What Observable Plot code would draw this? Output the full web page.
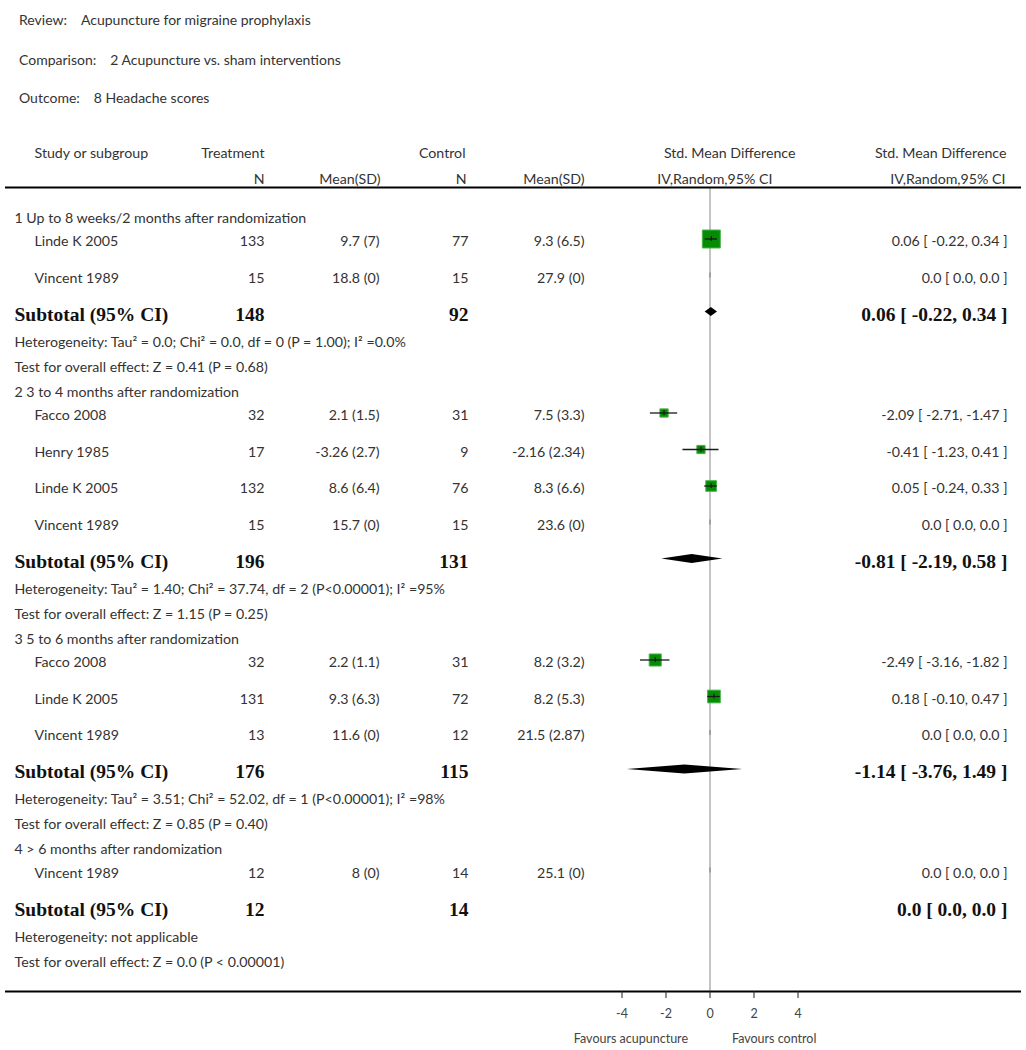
<!DOCTYPE html>
<html><head><meta charset="utf-8">
<script src="https://cdn.jsdelivr.net/npm/d3@7"></script>
<script src="https://cdn.jsdelivr.net/npm/@observablehq/plot@0.6"></script>
<style>
body{margin:0;background:#fff;font-family:Lato,"Open Sans",sans-serif;color:#333;}
#head{position:relative;height:130px;width:1026px;}
#head div{position:absolute;left:19px;font-size:14px;line-height:16px;white-space:nowrap;}
#head span.l{margin-right:14px}
#chart svg{display:block}
</style></head><body>
<div id="head"></div>
<div id="chart"></div>
<script>
// ---------- data ----------
const titleLabels = ["Review:", "Comparison:", "Outcome:"];
const titleValues = ["Acupuncture for migraine prophylaxis", "2 Acupuncture vs. sham interventions", "8 Headache scores"];

const groups = [
  "1 Up to 8 weeks/2 months after randomization",
  "2 3 to 4 months after randomization",
  "3 5 to 6 months after randomization",
  "4 > 6 months after randomization"
];
const studyGroup   = [0, 0, 1, 1, 1, 1, 2, 2, 2, 3];
const studyNames   = ["Linde K 2005", "Vincent 1989", "Facco 2008", "Henry 1985", "Linde K 2005", "Vincent 1989", "Facco 2008", "Linde K 2005", "Vincent 1989", "Vincent 1989"];
const treatN       = [133, 15, 32, 17, 132, 15, 32, 131, 13, 12];
const treatMean    = [9.7, 18.8, 2.1, -3.26, 8.6, 15.7, 2.2, 9.3, 11.6, 8];
const treatSD      = [7, 0, 1.5, 2.7, 6.4, 0, 1.1, 6.3, 0, 0];
const controlN     = [77, 15, 31, 9, 76, 15, 31, 72, 12, 14];
const controlMean  = [9.3, 27.9, 7.5, -2.16, 8.3, 23.6, 8.2, 8.2, 21.5, 25.1];
const controlSD    = [6.5, 0, 3.3, 2.34, 6.6, 0, 3.2, 5.3, 2.87, 0];
const smd          = [0.06, 0.0, -2.09, -0.41, 0.05, 0.0, -2.49, 0.18, 0.0, 0.0];
const smdLow       = [-0.22, 0.0, -2.71, -1.23, -0.24, 0.0, -3.16, -0.10, 0.0, 0.0];
const smdHigh      = [0.34, 0.0, -1.47, 0.41, 0.33, 0.0, -1.82, 0.47, 0.0, 0.0];
const weight       = [100, 0, 21, 21, 35, 0, 45, 50, 0, 0];

const subTreatN    = [148, 196, 176, 12];
const subControlN  = [92, 131, 115, 14];
const subSmd       = [0.06, -0.81, -1.14, 0.0];
const subLow       = [-0.22, -2.19, -3.76, 0.0];
const subHigh      = [0.34, 0.58, 1.49, 0.0];
const heterogeneity = [
  "Heterogeneity: Tau² = 0.0; Chi² = 0.0, df = 0 (P = 1.00); I² =0.0%",
  "Heterogeneity: Tau² = 1.40; Chi² = 37.74, df = 2 (P<0.00001); I² =95%",
  "Heterogeneity: Tau² = 3.51; Chi² = 52.02, df = 1 (P<0.00001); I² =98%",
  "Heterogeneity: not applicable"
];
const overallTest = [
  "Test for overall effect: Z = 0.41 (P = 0.68)",
  "Test for overall effect: Z = 1.15 (P = 0.25)",
  "Test for overall effect: Z = 0.85 (P = 0.40)",
  "Test for overall effect: Z = 0.0 (P < 0.00001)"
];
const axisTicks = [-4, -2, 0, 2, 4];
const favours = ["Favours acupuncture", "Favours control"];
const headerRow1 = ["Study or subgroup", "Treatment", "Control", "Std. Mean Difference", "Std. Mean Difference"];
const headerRow2 = ["N", "Mean(SD)", "N", "Mean(SD)", "IV,Random,95% CI", "IV,Random,95% CI"];

// ---------- header (HTML) ----------
const head = document.getElementById("head");
[12, 52, 90].forEach((top, i) => {
  const d = document.createElement("div");
  d.style.top = top + "px";
  d.innerHTML = `<span class="l">${titleLabels[i]}</span>${titleValues[i]}`;
  head.appendChild(d);
});

// ---------- layout ----------
const W = 1026, H = 920, OFF = 130;
const X0 = 709.5, PXU = 22;           // pixel of zero, pixels per unit
const toX = px => (px - X0) / PXU;     // page pixel -> x-scale value
const col = {group: 14, study: 34, tN: 264, tMean: 379, cN: 468, cMean: 584, eff: 1007};

const rows = [];
let y = 215;
groups.forEach((g, gi) => {
  rows.push({type: "group", y, text: g});
  const idx = studyNames.map((_, i) => i).filter(i => studyGroup[i] === gi);
  idx.forEach((i, k) => { y += k === 0 ? 23.5 : 36.5; rows.push({type: "study", y, i}); });
  y += 36.5; rows.push({type: "subtotal", y, g: gi});
  y += 27.5; rows.push({type: "het", y, g: gi});
  y += 25;   rows.push({type: "test", y, g: gi});
  y += 25;
});

const f2 = v => v === 0 ? "0.0" : v.toFixed(2);
const effText = (e, l, h) => `${f2(e)} [ ${f2(l)}, ${f2(h)} ]`;

const studies = rows.filter(r => r.type === "study").map(r => {
  const i = r.i;
  return {y: r.y, name: studyNames[i], tN: treatN[i], tMS: `${treatMean[i]} (${treatSD[i]})`,
    cN: controlN[i], cMS: `${controlMean[i]} (${controlSD[i]})`,
    est: smd[i], lo: smdLow[i], hi: smdHigh[i], w: weight[i], eff: effText(smd[i], smdLow[i], smdHigh[i])};
});
const subs = rows.filter(r => r.type === "subtotal").map(r => ({y: r.y, g: r.g,
  tN: subTreatN[r.g], cN: subControlN[r.g], est: subSmd[r.g], lo: subLow[r.g], hi: subHigh[r.g],
  eff: effText(subSmd[r.g], subLow[r.g], subHigh[r.g])}));
const diamonds = subs.flatMap(s => [
  {g: s.g, y: s.y - 4.5, x1: s.est, x2: s.est},
  {g: s.g, y: s.y, x1: s.lo, x2: s.hi},
  {g: s.g, y: s.y + 4.5, x1: s.est, x2: s.est}
]);
const groupRows = rows.filter(r => r.type === "group");
const hetRows = rows.filter(r => r.type === "het").map(r => ({y: r.y, text: heterogeneity[r.g]}));
const testRows = rows.filter(r => r.type === "test").map(r => ({y: r.y, text: overallTest[r.g]}));

const hdr1Start = [{t: headerRow1[0], px: 34}];
const hdr1End = [
  {t: headerRow1[1], px: 264}, {t: headerRow1[2], px: 465},
  {t: headerRow1[3], px: 795}, {t: headerRow1[4], px: 1006}
];
const hdr2 = [
  {t: headerRow2[0], px: 264}, {t: headerRow2[1], px: 380},
  {t: headerRow2[2], px: 466}, {t: headerRow2[3], px: 584},
  {t: headerRow2[4], px: 772}, {t: headerRow2[5], px: 1005}
];

const FS = 14.2;
const TXT = {fontSize: FS, fill: "#333"};
const ROW = {fontSize: FS, fill: "#333", dy: 2.5};
const BOLD = {fontSize: 19.5, fontFamily: "Liberation Serif", fontWeight: "bold", fill: "#111", dy: 2.5};

const chart = Plot.plot({
  width: W, height: H,
  marginLeft: 5, marginRight: 5, marginTop: 0, marginBottom: 59,
  x: {domain: [toX(5), toX(1021)], range: [5, 1021]},
  y: {domain: [OFF, OFF + H], range: [0, H], axis: null},
  r: {type: "sqrt", domain: [0, 100], range: [0, 18 / Math.sqrt(Math.PI)]},
  style: {fontFamily: "Lato, 'Open Sans', sans-serif", fontSize: "14px", color: "#333", background: "#fff"},
  marks: [
    // header texts
    Plot.text(hdr1Start, {x: d => toX(d.px), y: () => 153, text: "t", textAnchor: "start", ...TXT}),
    Plot.text(hdr1End, {x: d => toX(d.px), y: () => 153, text: "t", textAnchor: "end", ...TXT}),
    Plot.text(hdr2, {x: d => toX(d.px), y: () => 179, text: "t", textAnchor: "end", ...TXT}),
    // zero line
    Plot.ruleX([0], {y1: 187, y2: 991, stroke: "#c4c4c4", strokeWidth: 2}),
    // top and bottom rules
    Plot.ruleY([187, 991], {y: d => d, stroke: "#000", strokeWidth: 2}),
    // group headings
    Plot.text(groupRows, {x: () => toX(col.group), y: "y", text: "text", textAnchor: "start", ...ROW}),
    // study rows
    Plot.text(studies, {x: () => toX(col.study), y: "y", text: "name", textAnchor: "start", ...ROW}),
    Plot.text(studies, {x: () => toX(col.tN), y: "y", text: "tN", textAnchor: "end", ...ROW}),
    Plot.text(studies, {x: () => toX(col.tMean), y: "y", text: "tMS", textAnchor: "end", ...ROW}),
    Plot.text(studies, {x: () => toX(col.cN), y: "y", text: "cN", textAnchor: "end", ...ROW}),
    Plot.text(studies, {x: () => toX(col.cMean), y: "y", text: "cMS", textAnchor: "end", ...ROW}),
    Plot.text(studies, {x: () => toX(col.eff), y: "y", text: "eff", textAnchor: "end", ...ROW}),
    // subtotal rows
    Plot.text(subs, {x: () => toX(col.group), y: "y", text: () => "Subtotal (95% CI)", textAnchor: "start", ...BOLD}),
    Plot.text(subs, {x: () => toX(col.tN), y: "y", text: "tN", textAnchor: "end", ...BOLD}),
    Plot.text(subs, {x: () => toX(col.cN), y: "y", text: "cN", textAnchor: "end", ...BOLD}),
    Plot.text(subs, {x: () => toX(col.eff), y: "y", text: "eff", textAnchor: "end", ...BOLD}),
    Plot.text(hetRows, {x: () => toX(col.group), y: "y", text: "text", textAnchor: "start", ...ROW}),
    Plot.text(testRows, {x: () => toX(col.group), y: "y", text: "text", textAnchor: "start", ...ROW}),
    // forest: squares, CI lines, centre ticks
    Plot.dot(studies.filter(d => d.w > 0), {x: "est", y: "y", r: "w", symbol: "square", fill: "#058c05", stroke: "#4cb34c", strokeWidth: 1}),
    Plot.ruleY(studies, {y: "y", x1: "lo", x2: "hi", stroke: "#1a1a1a", strokeWidth: 1.3}),
    Plot.ruleX(studies, {x: "est", y1: d => d.y - 2.5, y2: d => d.y + 2.5, stroke: d => d.w > 0 ? "#1a1a1a" : "#888", strokeWidth: 1.2}),
    // diamonds
    Plot.areaX(diamonds, {y: "y", x1: "x1", x2: "x2", z: "g", fill: "#000", curve: "linear"}),
    // axis
    Plot.axisX(axisTicks, {anchor: "bottom", tickSize: 7, tickPadding: 11, fontSize: 12.5, fill: "#444", stroke: "#222", tickFormat: d => String(d)}),
    Plot.text(favours.slice(0, 1), {x: () => -1, y: () => 1038, text: d => d, textAnchor: "end", fontSize: 12.5, fill: "#444"}),
    Plot.text(favours.slice(1), {x: () => 1, y: () => 1038, text: d => d, textAnchor: "start", fontSize: 12.5, fill: "#444"})
  ]
});
document.getElementById("chart").appendChild(chart);
</script></body></html>
